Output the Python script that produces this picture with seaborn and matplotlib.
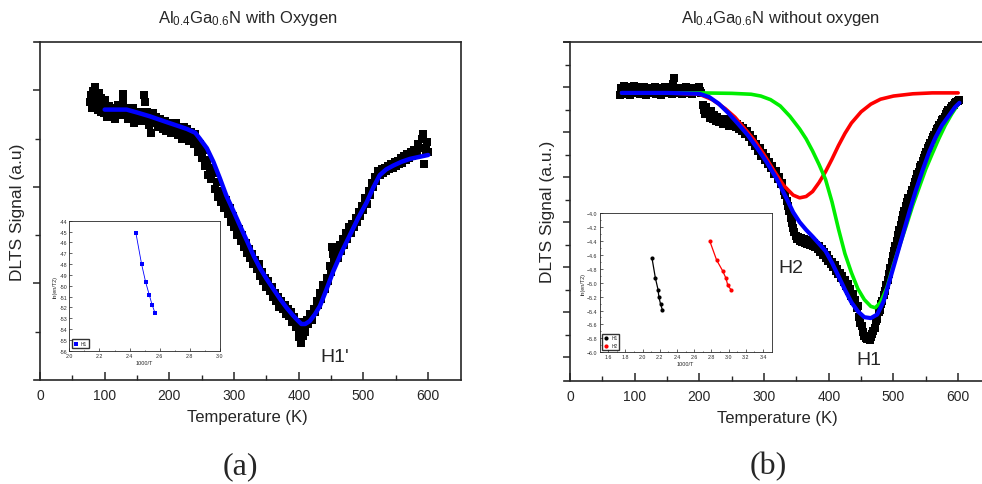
import matplotlib
matplotlib.use("Agg")
import numpy as np
import pandas as pd
import seaborn as sns
import matplotlib.pyplot as plt
from matplotlib.ticker import FixedLocator

# ---------------- data: panel (a) -----------------
temp_a = [77, 79, 80, 82, 83, 85, 86, 88, 89, 91, 92, 94, 95, 97, 99, 100, 102, 104, 106, 108,
          111, 113, 116, 118, 121, 123, 126, 128, 129, 131, 134, 136, 139, 141, 144, 146, 149, 151, 154, 156,
          159, 161, 162, 164, 166, 169, 171, 173, 175, 178, 180, 183, 185, 188, 190, 193, 195, 198, 200, 203,
          205, 208, 210, 213, 215, 218, 220, 223, 225, 228, 230, 233, 235, 238, 240, 243, 245, 248, 250, 253,
          255, 258, 260, 263, 265, 268, 270, 273, 275, 278, 280, 283, 285, 288, 290, 293, 295, 298, 300, 303,
          305, 308, 310, 313, 315, 318, 320, 323, 325, 328, 330, 333, 335, 338, 340, 343, 345, 348, 350, 353,
          355, 358, 360, 363, 365, 368, 370, 373, 375, 378, 380, 383, 385, 388, 390, 393, 395, 398, 400, 401,
          403, 405, 406, 408, 410, 412, 415, 418, 420, 423, 425, 428, 430, 433, 435, 438, 440, 443, 445, 448,
          450, 452, 453, 455, 458, 460, 463, 465, 468, 470, 473, 475, 478, 480, 483, 485, 488, 490, 493, 495,
          498, 500, 503, 505, 508, 510, 513, 515, 518, 520, 523, 525, 528, 530, 533, 535, 538, 540, 543, 545,
          548, 550, 553, 555, 558, 560, 563, 565, 568, 570, 573, 575, 578, 580, 583, 585, 588, 590, 592, 594,
          596, 598, 600]
signal_a = [2.88, 2.95, 2.82, 2.99, 2.90, 3.03, 2.86, 2.94, 2.80, 2.97, 2.88, 2.78, 2.92, 2.84, 2.76, 2.90, 2.80, 2.72, 2.84, 2.78,
            2.74, 2.82, 2.70, 2.78, 2.85, 2.74, 2.80, 2.96, 2.88, 2.76, 2.82, 2.70, 2.78, 2.73, 2.82, 2.66, 2.76, 2.70, 2.78, 2.68,
            2.74, 2.95, 2.88, 2.70, 2.78, 2.64, 2.56, 2.70, 2.76, 2.66, 2.72, 2.62, 2.70, 2.65, 2.60, 2.68, 2.58, 2.66, 2.62, 2.56,
            2.64, 2.58, 2.66, 2.54, 2.62, 2.58, 2.50, 2.62, 2.56, 2.60, 2.48, 2.57, 2.52, 2.44, 2.55, 2.48, 2.36, 2.44, 2.30, 2.38,
            2.22, 2.28, 2.12, 2.20, 2.08, 2.14, 1.98, 2.05, 1.90, 1.96, 1.84, 1.92, 1.78, 1.86, 1.72, 1.78, 1.64, 1.70, 1.58, 1.62,
            1.50, 1.56, 1.44, 1.50, 1.38, 1.42, 1.32, 1.36, 1.26, 1.30, 1.20, 1.24, 1.15, 1.20, 1.08, 1.12, 1.02, 1.06, 0.96, 1.02,
            0.92, 0.96, 0.86, 0.90, 0.82, 0.86, 0.76, 0.82, 0.74, 0.78, 0.68, 0.74, 0.66, 0.70, 0.60, 0.65, 0.55, 0.60, 0.45, 0.52,
            0.38, 0.56, 0.46, 0.60, 0.50, 0.62, 0.58, 0.68, 0.62, 0.74, 0.70, 0.82, 0.78, 0.90, 0.84, 0.98, 0.94, 1.06, 1.02, 1.18,
            1.12, 1.38, 1.30, 1.22, 1.32, 1.26, 1.40, 1.34, 1.46, 1.40, 1.52, 1.46, 1.58, 1.52, 1.62, 1.58, 1.68, 1.64, 1.74, 1.70,
            1.80, 1.76, 1.88, 1.82, 1.96, 1.92, 2.04, 2.00, 2.10, 2.06, 2.16, 2.12, 2.18, 2.14, 2.20, 2.16, 2.22, 2.18, 2.24, 2.20,
            2.26, 2.22, 2.27, 2.24, 2.30, 2.25, 2.32, 2.28, 2.34, 2.30, 2.36, 2.32, 2.38, 2.33, 2.36, 2.44, 2.40, 2.50, 2.55, 2.24,
            2.38, 2.46, 2.36]
fit_temp_a = [100, 134, 150, 170, 196, 227, 240, 247, 258, 268, 278, 288, 299, 309, 320, 330, 340, 350, 361, 371,
              381, 391, 398, 404, 410, 417, 425, 433, 443, 453, 466, 479, 492, 505, 515, 525, 535, 546, 559, 572, 586, 600]
fit_sig_a = [2.80, 2.80, 2.77, 2.73, 2.67, 2.60, 2.56, 2.50, 2.40, 2.26, 2.09, 1.91, 1.75, 1.60, 1.44, 1.29, 1.16, 1.05, 0.94, 0.84,
             0.75, 0.67, 0.62, 0.58, 0.58, 0.61, 0.68, 0.77, 0.94, 1.12, 1.32, 1.50, 1.68, 1.84, 1.99, 2.12, 2.18, 2.22, 2.26, 2.29, 2.31, 2.33]

inset_a_x = [2.442, 2.480, 2.507, 2.531, 2.549, 2.569]
inset_a_y = [-45.14, -48.03, -49.69, -50.86, -51.75, -52.52]

# ---------------- data: panel (b) -----------------
temp_b = [77, 79, 81, 83, 85, 87, 89, 91, 93, 95, 97, 99, 101, 103, 105, 107, 109, 111, 113, 115,
          117, 119, 121, 123, 125, 127, 129, 131, 133, 135, 137, 139, 141, 143, 145, 147, 149, 151, 153, 155,
          157, 159, 161, 163, 165, 167, 169, 171, 173, 175, 177, 179, 181, 183, 185, 187, 189, 191, 193, 195,
          197, 199, 201, 203, 205, 207, 209, 211, 213, 216, 218, 221, 223, 226, 228, 231, 233, 236, 238, 241,
          243, 246, 248, 251, 253, 256, 258, 261, 263, 266, 268, 271, 273, 276, 278, 281, 283, 286, 288, 291,
          293, 296, 298, 301, 303, 306, 308, 311, 313, 316, 318, 321, 323, 326, 328, 331, 333, 335, 337, 339,
          341, 343, 345, 347, 349, 351, 353, 355, 357, 359, 361, 363, 365, 367, 369, 371, 373, 375, 377, 379,
          381, 383, 385, 387, 389, 391, 393, 395, 397, 399, 401, 403, 405, 407, 409, 411, 413, 415, 417, 419,
          421, 423, 425, 427, 429, 431, 433, 435, 437, 439, 441, 443, 445, 447, 449, 451, 453, 455, 457, 459,
          461, 463, 465, 467, 469, 471, 473, 475, 477, 479, 481, 483, 485, 487, 489, 491, 493, 495, 497, 499,
          501, 503, 505, 507, 509, 511, 513, 515, 517, 519, 521, 523, 525, 527, 529, 531, 533, 535, 537, 539,
          541, 543, 545, 547, 549, 551, 553, 555, 557, 559, 561, 563, 565, 567, 569, 571, 573, 575, 577, 579,
          581, 583, 585, 587, 589, 591, 593, 595, 597, 599, 601]
signal_b = [5.82, 5.98, 5.88, 6.02, 5.84, 5.96, 5.90, 6.00, 5.82, 5.94, 5.88, 6.02, 5.86, 5.96, 5.90, 6.00, 5.84, 5.96, 5.88, 6.00,
            5.82, 5.94, 5.90, 5.98, 5.86, 5.96, 5.88, 6.00, 5.84, 5.94, 5.90, 5.98, 5.82, 5.92, 5.88, 6.00, 5.86, 5.94, 5.90, 5.98,
            5.84, 6.06, 6.20, 5.92, 5.86, 5.96, 5.88, 5.98, 5.84, 5.94, 5.90, 6.00, 5.86, 5.96, 5.88, 5.98, 5.84, 5.94, 5.90, 5.98,
            5.88, 6.00, 5.92, 5.86, 5.60, 5.48, 5.40, 5.55, 5.42, 5.32, 5.46, 5.30, 5.38, 5.24, 5.34, 5.22, 5.30, 5.18, 5.28, 5.20,
            5.26, 5.14, 5.24, 5.16, 5.22, 5.12, 5.18, 5.06, 5.14, 5.02, 5.08, 4.96, 5.02, 4.88, 4.94, 4.78, 4.84, 4.70, 4.74, 4.58,
            4.64, 4.48, 4.54, 4.38, 4.44, 4.30, 4.34, 4.20, 4.24, 4.08, 4.14, 3.96, 4.00, 3.84, 3.88, 3.70, 3.60, 3.48, 3.36, 3.24,
            3.10, 2.98, 2.86, 2.78, 2.70, 2.62, 2.68, 2.58, 2.64, 2.56, 2.62, 2.54, 2.60, 2.52, 2.58, 2.50, 2.56, 2.48, 2.54, 2.44,
            2.50, 2.40, 2.46, 2.34, 2.40, 2.28, 2.34, 2.20, 2.26, 2.14, 2.18, 2.06, 2.12, 2.00, 2.04, 1.92, 1.96, 1.84, 1.88, 1.76,
            1.80, 1.68, 1.72, 1.58, 1.62, 1.48, 1.52, 1.36, 1.40, 1.24, 1.28, 1.10, 1.14, 0.90, 0.76, 0.70, 0.56, 0.48, 0.42, 0.40,
            0.46, 0.38, 0.44, 0.52, 0.58, 0.66, 0.80, 0.86, 1.00, 1.06, 1.18, 1.26, 1.38, 1.48, 1.60, 1.72, 1.86, 1.98, 2.12, 2.24,
            2.36, 2.48, 2.58, 2.72, 2.82, 2.94, 3.04, 3.16, 3.24, 3.36, 3.44, 3.54, 3.48, 3.62, 3.72, 3.80, 3.90, 3.96, 4.08, 4.12,
            4.22, 4.26, 4.36, 4.42, 4.50, 4.56, 4.64, 4.70, 4.76, 4.82, 4.88, 4.94, 5.00, 5.06, 5.10, 5.16, 5.20, 5.26, 5.30, 5.34,
            5.40, 5.44, 5.48, 5.50, 5.54, 5.58, 5.60, 5.64, 5.66, 5.70, 5.72]

h2_temp = [80, 150, 200, 220, 240, 255, 270, 285, 300, 315, 330, 345, 355, 365, 375, 385, 395, 405, 415, 425,
           435, 450, 465, 480, 500, 530, 560, 600]
h2_sig = [5.87, 5.87, 5.84, 5.72, 5.52, 5.33, 5.08, 4.82, 4.50, 4.15, 3.82, 3.60, 3.54, 3.57, 3.68, 3.88, 4.12, 4.40, 4.70, 4.97,
          5.20, 5.45, 5.62, 5.73, 5.80, 5.85, 5.87, 5.87]

h1_temp = [80, 200, 250, 280, 295, 310, 325, 340, 355, 365, 375, 385, 395, 405, 415, 425, 435, 445, 455, 465,
           472, 480, 490, 500, 510, 520, 530, 540, 550, 560, 570, 580, 590, 600]
h1_sig = [5.87, 5.87, 5.86, 5.84, 5.80, 5.72, 5.58, 5.35, 5.07, 4.85, 4.58, 4.28, 3.95, 3.45, 2.85, 2.30, 1.88, 1.52, 1.28, 1.13,
          1.10, 1.22, 1.55, 2.05, 2.50, 2.93, 3.38, 3.78, 4.18, 4.52, 4.85, 5.15, 5.40, 5.62]

tot_temp = [80, 150, 200, 215, 230, 245, 260, 275, 290, 305, 320, 335, 345, 355, 365, 375, 385, 395, 405, 415,
            425, 435, 445, 455, 465, 475, 485, 495, 505, 515, 525, 535, 545, 555, 565, 575, 585, 595, 602]
tot_sig = [5.87, 5.87, 5.85, 5.78, 5.63, 5.42, 5.18, 4.93, 4.63, 4.31, 3.95, 3.52, 3.22, 3.00, 2.83, 2.68, 2.52, 2.36, 2.10, 1.80,
           1.50, 1.22, 1.02, 0.89, 0.87, 0.95, 1.25, 1.75, 2.25, 2.75, 3.25, 3.72, 4.15, 4.55, 4.88, 5.15, 5.35, 5.55, 5.65]

inset_b_h1_x = [2.11, 2.15, 2.18, 2.19, 2.21, 2.23]
inset_b_h1_y = [-4.65, -4.94, -5.10, -5.21, -5.31, -5.39]
inset_b_h2_x = [2.78, 2.86, 2.93, 2.97, 2.99, 3.03]
inset_b_h2_y = [-4.40, -4.675, -4.83, -4.94, -5.04, -5.105]

# ---------------- style -----------------
sns.set_style("ticks")
plt.rcParams['font.family'] = ['Liberation Sans', 'DejaVu Sans']
plt.rcParams['mathtext.fontset'] = 'custom'
plt.rcParams['mathtext.rm'] = 'Liberation Sans'
plt.rcParams['mathtext.it'] = 'Liberation Sans:italic'
plt.rcParams['axes.linewidth'] = 1.2

W, H = 982, 485
fig = plt.figure(figsize=(W / 100, H / 100), dpi=100)

def frac(x0, y_top, x1, y_bot):
    return [x0 / W, 1 - y_bot / H, (x1 - x0) / W, (y_bot - y_top) / H]

axA = fig.add_axes(frac(33.5, 43, 460.5, 381))
axB = fig.add_axes(frac(563.5, 43, 990.5, 381.7))

BLUE = "#0000ff"
RED = "#ff0000"
GREEN = "#00ee00"

def style_main(ax, ymaj, ymin):
    ax.set_xlim(-10, 650)
    ax.spines['left'].set_position(('data', 0))
    ax.set_xticks([0, 100, 200, 300, 400, 500, 600])
    ax.xaxis.set_minor_locator(FixedLocator([50, 150, 250, 350, 450, 550]))
    ax.yaxis.set_major_locator(FixedLocator(ymaj))
    ax.yaxis.set_minor_locator(FixedLocator(ymin))
    ax.set_yticklabels([])
    ax.tick_params(axis='x', which='major', direction='in', length=6, width=1.1, labelsize=10, pad=6)
    ax.tick_params(axis='x', which='minor', direction='in', length=3.5, width=1.0)
    ax.tick_params(axis='y', which='major', direction='out', length=5, width=1.1)
    ax.tick_params(axis='y', which='minor', direction='out', length=3.5, width=1.0)
    ax.set_xlabel("Temperature (K)", fontsize=12, labelpad=5)

# ---- panel (a) ----
dfa = pd.DataFrame({"T": temp_a, "S": signal_a})
sns.scatterplot(data=dfa, x="T", y="S", ax=axA, marker="s", s=34, color="black", linewidth=0, legend=False)
sns.lineplot(x=fit_temp_a, y=fit_sig_a, ax=axA, color=BLUE, lw=3.2, legend=False)
axA.set_ylim(0, 3.5)
style_main(axA, [1, 2, 3], [0.5, 1.5, 2.5])
axA.set_ylabel("DLTS Signal (a.u)", fontsize=12.5)
axA.yaxis.set_label_coords((25 - 33.5) / 427, 0.5)
axA.text(456, 0.24, "H1'", fontsize=14, ha="center", va="center")

# ---- panel (b) ----
dfb = pd.DataFrame({"T": temp_b, "S": signal_b})
sns.scatterplot(data=dfb, x="T", y="S", ax=axB, marker="s", s=34, color="black", linewidth=0, legend=False)
sns.lineplot(x=h2_temp, y=h2_sig, ax=axB, color=RED, lw=2.6, legend=False)
sns.lineplot(x=h1_temp, y=h1_sig, ax=axB, color=GREEN, lw=2.6, legend=False)
sns.lineplot(x=tot_temp, y=tot_sig, ax=axB, color=BLUE, lw=3.0, legend=False)
axB.set_ylim(-0.52, 7.0)
style_main(axB, [0, 1, 2, 3, 4, 5, 6, 7], [0.5, 1.5, 2.5, 3.5, 4.5, 5.5, 6.5])
axB.set_ylabel("DLTS Signal (a.u.)", fontsize=12.5)
axB.yaxis.set_label_coords((555 - 563.5) / 427, 0.5)
axB.text(342, 2.0, "H2", fontsize=14, ha="center", va="center")
axB.text(462, -0.04, "H1", fontsize=14, ha="center", va="center")

# ---- insets ----
def style_inset(ax):
    for sp in ax.spines.values():
        sp.set_linewidth(0.6)
    ax.tick_params(which='both', direction='in', labelsize=3.8, width=0.5, pad=1.5)
    ax.tick_params(which='major', length=2)
    ax.tick_params(which='minor', length=1)
    ax.set_xlabel("1000/T", fontsize=4, labelpad=1.5)
    ax.set_ylabel("ln(en/T2)", fontsize=4, labelpad=1)

insA = fig.add_axes(frac(69.3, 221.7, 220, 351.7))
sns.lineplot(x=inset_a_x, y=inset_a_y, ax=insA, color=BLUE, lw=0.6, legend=False)
sns.scatterplot(x=inset_a_x, y=inset_a_y, ax=insA, marker="s", s=5, color=BLUE, linewidth=0, label="H1")
insA.set_xlim(2.0, 3.0)
insA.set_ylim(-56, -44)
insA.set_xticks([2.0, 2.2, 2.4, 2.6, 2.8, 3.0])
insA.set_xticklabels(["2.0", "2.2", "2.4", "2.6", "2.8", "3.0"])
insA.xaxis.set_minor_locator(FixedLocator([2.1, 2.3, 2.5, 2.7, 2.9]))
insA.set_yticks(list(range(-56, -43)))
insA.set_yticklabels([str(v) for v in range(-56, -43)])
style_inset(insA)
insA.legend(loc="lower left", fontsize=3.5, frameon=True, fancybox=False, edgecolor="black",
            handlelength=1.0, borderpad=0.4, handletextpad=0.5, markerscale=1.0)

insB = fig.add_axes(frac(599.5, 214, 771.7, 353.3))
sns.lineplot(x=inset_b_h1_x, y=inset_b_h1_y, ax=insB, color="black", lw=0.9, legend=False)
sns.lineplot(x=inset_b_h2_x, y=inset_b_h2_y, ax=insB, color=RED, lw=0.9, legend=False)
sns.scatterplot(x=inset_b_h1_x, y=inset_b_h1_y, ax=insB, marker="o", s=9, color="black", linewidth=0, label="H1")
sns.scatterplot(x=inset_b_h2_x, y=inset_b_h2_y, ax=insB, marker="o", s=9, color=RED, linewidth=0, label="H2")
insB.set_xlim(1.5, 3.5)
insB.set_ylim(-6.0, -4.0)
insB.set_xticks([1.6, 1.8, 2.0, 2.2, 2.4, 2.6, 2.8, 3.0, 3.2, 3.4])
insB.xaxis.set_minor_locator(FixedLocator([1.7, 1.9, 2.1, 2.3, 2.5, 2.7, 2.9, 3.1, 3.3]))
insB.set_yticks([-6.0, -5.8, -5.6, -5.4, -5.2, -5.0, -4.8, -4.6, -4.4, -4.2, -4.0])
insB.yaxis.set_minor_locator(FixedLocator([-5.9, -5.7, -5.5, -5.3, -5.1, -4.9, -4.7, -4.5, -4.3, -4.1]))
style_inset(insB)
insB.legend(loc="lower left", fontsize=3.5, frameon=True, fancybox=False, edgecolor="black",
            handlelength=1.0, borderpad=0.4, handletextpad=0.5, markerscale=1.0)

# ---- titles and panel letters ----
fig.text(248 / W, 1 - 18 / H, r"Al$_{0.4}$Ga$_{0.6}$N with Oxygen", fontsize=12, ha="center", va="center")
fig.text(780 / W, 1 - 18 / H, r"Al$_{0.4}$Ga$_{0.6}$N without oxygen", fontsize=12, ha="center", va="center")
fig.text(240 / W, 1 - 467 / H, "(a)", fontsize=23, ha="center", va="center", family="Liberation Serif")
fig.text(768 / W, 1 - 467 / H, "(b)", fontsize=23, ha="center", va="center", family="Liberation Serif")

fig.savefig("out.png", dpi=100)
